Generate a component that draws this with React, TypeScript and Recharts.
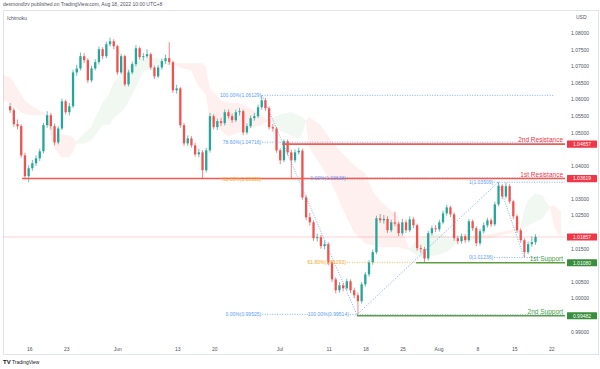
import React from 'react';
import { ComposedChart, Bar, Area, XAxis, YAxis, ReferenceLine, ReferenceDot } from 'recharts';

// ---------- candles (EURUSD, 12h-ish bars) ----------
const opens = [1.0580,1.0568,1.0526,1.0520,1.0432,1.0369,1.0393,1.0408,1.0423,1.0444,
1.0523,1.0553,1.0520,1.0471,1.0513,1.0595,1.0562,1.0580,1.0682,1.0694,
1.0731,1.0719,1.0658,1.0694,1.0713,1.0752,1.0731,1.0767,1.0776,1.0761,
1.0682,1.0731,1.0646,1.0682,1.0707,1.0755,1.0728,1.0731,1.0737,1.0697,
1.0670,1.0697,1.0716,1.0725,1.0713,1.0628,1.0634,1.0523,1.0468,1.0483,
1.0462,1.0435,1.0441,1.0387,1.0447,1.0550,1.0517,1.0535,1.0529,1.0562,
1.0550,1.0538,1.0562,1.0565,1.0501,1.0520,1.0544,1.0550,1.0577,1.0598,
1.0574,1.0517,1.0513,1.0447,1.0417,1.0474,1.0441,1.0417,1.0441,1.0446,
1.0305,1.0245,1.0230,1.0182,1.0185,1.0158,1.0164,1.0109,1.0058,1.0025,
1.0040,1.0031,1.0052,1.0025,1.0010,0.9992,1.0043,1.0073,1.0109,1.0140,
1.0242,1.0236,1.0240,1.0206,1.0230,1.0226,1.0197,1.0230,1.0206,1.0239,
1.0221,1.0152,1.0149,1.0121,1.0197,1.0212,1.0209,1.0230,1.0257,1.0275,
1.0254,1.0182,1.0173,1.0188,1.0176,1.0233,1.0212,1.0167,1.0203,1.0221,
1.0236,1.0224,1.0284,1.0340,1.0308,1.0339,1.0293,1.0248,1.0206,1.0176,
1.0140,1.0164,1.0170];
const closes = [1.0568,1.0526,1.0520,1.0432,1.0369,1.0393,1.0408,1.0423,1.0444,1.0523,
1.0553,1.0520,1.0471,1.0513,1.0595,1.0562,1.0580,1.0682,1.0694,1.0731,
1.0719,1.0658,1.0694,1.0713,1.0752,1.0731,1.0767,1.0776,1.0761,1.0682,
1.0731,1.0646,1.0682,1.0707,1.0755,1.0728,1.0731,1.0737,1.0697,1.0670,
1.0697,1.0716,1.0725,1.0713,1.0628,1.0634,1.0523,1.0468,1.0483,1.0462,
1.0435,1.0441,1.0387,1.0447,1.0550,1.0517,1.0535,1.0529,1.0562,1.0550,
1.0538,1.0562,1.0565,1.0501,1.0520,1.0544,1.0550,1.0577,1.0598,1.0574,
1.0517,1.0513,1.0447,1.0417,1.0474,1.0441,1.0417,1.0441,1.0446,1.0305,
1.0245,1.0230,1.0182,1.0185,1.0158,1.0164,1.0109,1.0058,1.0025,1.0040,
1.0031,1.0052,1.0025,1.0010,0.9992,1.0043,1.0073,1.0109,1.0140,1.0242,
1.0236,1.0240,1.0206,1.0230,1.0226,1.0197,1.0230,1.0206,1.0239,1.0221,
1.0152,1.0149,1.0121,1.0197,1.0212,1.0209,1.0230,1.0257,1.0275,1.0254,
1.0182,1.0173,1.0188,1.0176,1.0233,1.0212,1.0167,1.0203,1.0221,1.0236,
1.0224,1.0284,1.0340,1.0308,1.0339,1.0293,1.0248,1.0206,1.0176,1.0140,
1.0164,1.0170,1.0186];
const highs = [1.0590,1.0575,1.0540,1.0526,1.0440,1.0402,1.0418,1.0432,1.0452,1.0530,
1.0565,1.0560,1.0528,1.0520,1.0603,1.0600,1.0590,1.0690,1.0705,1.0742,
1.0740,1.0725,1.0702,1.0722,1.0760,1.0758,1.0775,1.0787,1.0782,1.0766,
1.0738,1.0736,1.0690,1.0715,1.0764,1.0760,1.0740,1.0752,1.0742,1.0703,
1.0705,1.0724,1.0735,1.0773,1.0718,1.0645,1.0638,1.0530,1.0492,1.0490,
1.0470,1.0452,1.0448,1.0455,1.0560,1.0556,1.0543,1.0545,1.0570,1.0570,
1.0558,1.0570,1.0575,1.0570,1.0528,1.0552,1.0560,1.0585,1.0613,1.0605,
1.0580,1.0526,1.0518,1.0453,1.0480,1.0480,1.0448,1.0450,1.0455,1.0452,
1.0312,1.0258,1.0236,1.0196,1.0192,1.0175,1.0170,1.0115,1.0064,1.0050,
1.0048,1.0060,1.0058,1.0033,1.0018,1.0050,1.0080,1.0116,1.0148,1.0250,
1.0255,1.0252,1.0248,1.0238,1.0262,1.0232,1.0240,1.0238,1.0248,1.0246,
1.0226,1.0162,1.0156,1.0204,1.0220,1.0222,1.0238,1.0265,1.0283,1.0280,
1.0260,1.0190,1.0196,1.0195,1.0240,1.0238,1.0218,1.0210,1.0230,1.0244,
1.0242,1.0292,1.0351,1.0345,1.0349,1.0345,1.0298,1.0254,1.0212,1.0182,
1.0172,1.0188,1.0194];
const lows = [1.0560,1.0518,1.0510,1.0425,1.0359,1.0351,1.0385,1.0400,1.0415,1.0438,
1.0515,1.0510,1.0462,1.0465,1.0508,1.0555,1.0552,1.0575,1.0672,1.0688,
1.0710,1.0650,1.0652,1.0688,1.0706,1.0722,1.0725,1.0760,1.0752,1.0675,
1.0676,1.0640,1.0640,1.0676,1.0700,1.0720,1.0718,1.0725,1.0690,1.0662,
1.0665,1.0690,1.0708,1.0705,1.0620,1.0618,1.0515,1.0460,1.0460,1.0455,
1.0428,1.0426,1.0360,1.0380,1.0440,1.0510,1.0508,1.0520,1.0522,1.0542,
1.0530,1.0532,1.0552,1.0493,1.0495,1.0514,1.0536,1.0544,1.0570,1.0566,
1.0510,1.0503,1.0440,1.0405,1.0412,1.0433,1.0363,1.0410,1.0434,1.0298,
1.0236,1.0220,1.0174,1.0172,1.0150,1.0148,1.0100,1.0050,1.0016,1.0018,
1.0022,1.0025,1.0016,1.0001,0.9951,0.9985,1.0036,1.0066,1.0102,1.0134,
1.0228,1.0226,1.0198,1.0200,1.0218,1.0188,1.0190,1.0198,1.0200,1.0212,
1.0144,1.0138,1.0108,1.0115,1.0190,1.0200,1.0202,1.0224,1.0250,1.0246,
1.0174,1.0164,1.0166,1.0168,1.0170,1.0204,1.0158,1.0160,1.0196,1.0214,
1.0216,1.0218,1.0278,1.0300,1.0302,1.0286,1.0240,1.0198,1.0168,1.0124,
1.0134,1.0156,1.0162];

// ---------- Ichimoku cloud segments: [barIndex, upper, lower] ----------
const cloudR1 = [[-2,1.0673,1.0598],[0,1.0667,1.0589],[1,1.0655,1.0580],[3,1.0616,1.0562],[4,1.0598,1.0556],[6,1.0580,1.0553],[8,1.0568,1.0553],[9,1.0562,1.0556],[10,1.0550,1.0544],[11,1.0523,1.0492],[12,1.0498,1.0453],[14,1.0495,1.0426],[16,1.0492,1.0426],[17,1.0486,1.0441],[18,1.0474,1.0468]];
const cloudG1 = [[18,1.0474,1.0468],[20,1.0498,1.0468],[22,1.0517,1.0477],[23,1.0544,1.0492],[25,1.0589,1.0523],[27,1.0619,1.0526],[28,1.0652,1.0544],[30,1.0673,1.0562],[31,1.0694,1.0574],[32,1.0700,1.0592],[33,1.0710,1.0613],[35,1.0719,1.0658],[36,1.0725,1.0682],[38,1.0728,1.0694],[40,1.0725,1.0710],[42,1.0716,1.0703],[44,1.0710,1.0707]];
const cloudR2 = [[44,1.0710,1.0707],[46,1.0710,1.0697],[49,1.0710,1.0688],[51,1.0710,1.0640],[52,1.0710,1.0628],[53,1.0700,1.0613],[54,1.0634,1.0544],[57,1.0598,1.0507],[59,1.0592,1.0489],[62,1.0589,1.0501],[65,1.0574,1.0513],[68,1.0553,1.0523],[69,1.0544,1.0532],[70,1.0538,1.0535]];
const cloudG2 = [[70,1.0538,1.0535],[73,1.0556,1.0507],[76,1.0562,1.0492],[78,1.0553,1.0483],[79,1.0547,1.0495],[80,1.0538,1.0532]];
const cloudR3 = [[80,1.0538,1.0532],[81,1.0547,1.0453],[84,1.0523,1.0402],[87,1.0477,1.0348],[89,1.0447,1.0296],[91,1.0426,1.0245],[93,1.0402,1.0200],[96,1.0378,1.0167],[98,1.0326,1.0161],[100,1.0296,1.0155],[103,1.0266,1.0155],[105,1.0245,1.0155],[106,1.0206,1.0152],[108,1.0152,1.0146]];
const cloudG3 = [[108,1.0152,1.0146],[110,1.0176,1.0130],[112,1.0188,1.0124],[115,1.0197,1.0130],[118,1.0191,1.0140],[120,1.0176,1.0158],[121,1.0176,1.0173]];
const cloudR4 = [[121,1.0176,1.0173],[124,1.0188,1.0176],[130,1.0194,1.0182],[135,1.0206,1.0197],[138,1.0212,1.0209]];
const cloudG4 = [[138,1.0212,1.0209],[139,1.0266,1.0215],[140,1.0296,1.0221],[142,1.0317,1.0230],[144,1.0311,1.0242],[145,1.0290,1.0260],[146,1.0278,1.0272]];
const cloudR5 = [[146,1.0278,1.0272],[147,1.0281,1.0221],[148,1.0272,1.0197],[149,1.0260,1.0185]];

// ---------- axes ----------
const yTicks = [0.99,0.995,1.0,1.005,1.01,1.015,1.02,1.025,1.03,1.035,1.04,1.045,1.05,1.055,1.06,1.065,1.07,1.075,1.08];
const xTickIdx = [5.4,15.4,29.2,45.4,55.4,73,86.3,96.3,106.3,116,126.5,136.5,146.5];
const xTickLabels = ['16','23','Jun','13','20','Jul','11','18','25','Aug','8','15','22'];

// ---------- support / resistance levels ----------
const levelNames = ['2nd Resistance','1st Resistance','1st Support','2nd Support'];
const levelPrices = [1.04657,1.03619,1.01080,0.99482];
const levelStart = [73.6,3.3,109.8,93.8];
const levelKind = ['r','r','s','s'];

// ---------- fibonacci annotations ----------
const fibTexts = ['100.00%(1.06129)','78.60%(1.04716)','61.80%(1.03608)','0.00%(0.99525)','0.00%(1.03638)','61.80%(1.01093)','100.00%(0.99514)','1(1.03509)','0(1.01236)'];
const fibPrices = [1.06129,1.04716,1.03608,0.99525,1.03638,1.01093,0.99514,1.03509,1.01236];
const fibStart = [68.2,68.2,68.2,68.2,91.1,91.1,91.9,130.9,130.9];
const fibEnd = [147.3,147.3,79,80.6,150,109.8,150,150,143.3];
const fibKind = ['b','b','o','b','b','o','b','b','b'];
const diagFrom = [[68.2,1.06129],[93.8,0.99514],[132,1.03509]];
const diagTo = [[93.8,0.99514],[132,1.03509],[139,1.01236]];

// ---------- price boxes on axis ----------
const boxPrices = [1.04657,1.03619,1.01857,1.01080,0.99482];
const boxKind = ['r','r','r','s','s'];
const lastPrice = 1.01857;

const K_MIN = -1.85;
const K_MAX = 150.05;
const UP = '#26a69a';
const DOWN = '#ef5350';
const RED = '#f23645';
const GREEN = '#388e3c';
const BLUE = '#5b9cf6';
const ORANGE = '#f5a623';
const FONT = "'Liberation Sans', Arial, sans-serif";
const TXT = '#50535e';

const segs: [string, number[][], string][] = [
  ['cR1', cloudR1, 'r'], ['cG1', cloudG1, 'g'], ['cR2', cloudR2, 'r'], ['cG2', cloudG2, 'g'],
  ['cR3', cloudR3, 'r'], ['cG3', cloudG3, 'g'], ['cR4', cloudR4, 'r'], ['cG4', cloudG4, 'g'], ['cR5', cloudR5, 'r'],
];

const rows: any[] = [];
for (let k = -2; k <= 150; k++) {
  const row: any = { k };
  if (k >= 0 && k < closes.length) {
    row.o = opens[k]; row.h = highs[k]; row.l = lows[k]; row.c = closes[k];
    row.range = [lows[k], highs[k]];
  }
  rows.push(row);
}
segs.forEach(([name, pts]) => {
  pts.forEach(([k, hi, lo]) => { rows[k + 2][name] = [lo, hi]; });
});

function Candle(props: any) {
  const { x, y, width, height } = props;
  const d = props.payload || props;
  if (d == null || d.o == null || !isFinite(y)) return null;
  const top = Math.min(y, y + height);
  const bot = Math.max(y, y + height);
  const span = d.h - d.l;
  const per = span > 0 ? (bot - top) / span : 0;
  const yo = top + (d.h - d.o) * per;
  const yc = top + (d.h - d.c) * per;
  const color = d.c >= d.o ? UP : DOWN;
  const cx = x + width / 2;
  const bTop = Math.min(yo, yc);
  const bH = Math.max(Math.abs(yc - yo), 0.8);
  return (
    <g>
      <line x1={cx} x2={cx} y1={top} y2={bot} stroke={color} strokeWidth={0.7} />
      <rect x={x} y={bTop} width={width} height={bH} fill={color} />
    </g>
  );
}

const YTick = (props: any) => {
  const v = Number(props.payload.value);
  // ticks hidden under the coloured price boxes
  if (boxPrices.some((b) => Math.abs(b - v) < 0.0021)) return <g />;
  return (
    <text x={props.x} y={props.y} dy={1.8} fontSize={5} fill={TXT} fontFamily={FONT} textAnchor="start">
      {v.toFixed(5)}
    </text>
  );
};

const XTick = (props: any) => {
  const i = xTickIdx.indexOf(props.payload.value);
  return (
    <text x={props.x} y={351} fontSize={5} fill={TXT} fontFamily={FONT} textAnchor="middle">
      {i >= 0 ? xTickLabels[i] : ''}
    </text>
  );
};

const PriceBox = (props: any) => {
  const { cx, cy, color, value } = props;
  return (
    <g>
      <rect x={cx + 2} y={cy - 3.6} width={30} height={7.2} fill={color} rx={0.5} />
      <text x={cx + 17} y={cy + 1.8} fontSize={5} fill="#fff" fontFamily={FONT} textAnchor="middle">
        {value.toFixed(5)}
      </text>
    </g>
  );
};

export default function App() {
  return (
    <div style={{ position: 'absolute', left: 0, top: 0, width: 600, height: 369, background: '#fff', fontFamily: FONT, overflow: 'hidden' }}>
      <div style={{ position: 'absolute', left: 3, top: 1, fontSize: 5, color: TXT, whiteSpace: 'nowrap' }}>
        desmondlzv published on TradingView.com, Aug 18, 2022 10:00 UTC+8
      </div>
      <div style={{ position: 'absolute', left: 3, top: 10, width: 594, height: 343, border: '1px solid #e0e3eb' }} />
      <div style={{ position: 'absolute', left: 7, top: 15, fontSize: 5, color: TXT }}>Ichimoku</div>
      <div style={{ position: 'absolute', left: 576, top: 14, fontSize: 5, color: TXT }}>USD</div>
      <div style={{ position: 'absolute', left: 3, top: 359, fontSize: 5, color: '#131722', whiteSpace: 'nowrap' }}>
        <span style={{ fontWeight: 900, fontSize: 6 }}>TV</span> TradingView
      </div>
      <div style={{ position: 'absolute', left: 0, top: 0 }}>
        <ComposedChart width={600} height={369} data={rows} margin={{ top: 10, right: 0, bottom: 15, left: 3 }}>
          <XAxis
            type="number"
            dataKey="k"
            domain={[K_MIN, K_MAX]}
            allowDataOverflow
            ticks={xTickIdx}
            interval={0}
            axisLine={false}
            tickLine={false}
            height={14}
            tick={<XTick />}
          />
          <YAxis
            orientation="right"
            type="number"
            domain={[0.9875, 1.08703]}
            allowDataOverflow
            ticks={yTicks}
            interval={0}
            axisLine={false}
            tickLine={false}
            tickSize={6}
            tickMargin={0}
            width={35}
            tick={<YTick />}
          />
          {segs.map(([name, , col]) => (
            <Area
              key={name}
              dataKey={name}
              type="linear"
              stroke="none"
              fill={col === 'g' ? '#43a047' : '#f44336'}
              fillOpacity={col === 'g' ? 0.08 : 0.08}
              connectNulls
              dot={false}
              activeDot={false}
              isAnimationActive={false}
            />
          ))}
          <ReferenceLine y={lastPrice} stroke={DOWN} strokeOpacity={0.25} strokeWidth={1} />
          {fibTexts.map((t, i) => (
            <ReferenceLine
              key={'f' + i}
              segment={[{ x: fibStart[i], y: fibPrices[i] }, { x: fibEnd[i], y: fibPrices[i] }]}
              stroke={fibKind[i] === 'o' ? ORANGE : BLUE}
              strokeWidth={0.8}
              strokeDasharray="1 1.5"
              label={{ value: t, position: 'left', offset: 1, fontSize: 5, fill: fibKind[i] === 'o' ? ORANGE : BLUE, fontFamily: FONT }}
            />
          ))}
          {diagFrom.map((p, i) => (
            <ReferenceLine
              key={'d' + i}
              segment={[{ x: p[0], y: p[1] }, { x: diagTo[i][0], y: diagTo[i][1] }]}
              stroke={BLUE}
              strokeWidth={0.8}
              strokeDasharray="1 1.5"
            />
          ))}
          <Bar dataKey="range" barSize={2.3} shape={(p: any) => <Candle {...p} />} isAnimationActive={false} />
          {levelNames.map((n, i) => (
            <ReferenceLine
              key={'l' + i}
              segment={[{ x: levelStart[i], y: levelPrices[i] }, { x: K_MAX, y: levelPrices[i] }]}
              stroke={levelKind[i] === 'r' ? '#f25a52' : '#5f9e3c'}
              strokeWidth={1.6}
              label={{ value: n, position: 'insideBottomRight', offset: 2, fontSize: 6.5, fill: levelKind[i] === 'r' ? RED : '#43a047', fontFamily: FONT }}
            />
          ))}
          {boxPrices.map((p, i) => (
            <ReferenceDot
              key={'b' + i}
              x={K_MAX}
              y={p}
              r={0}
              ifOverflow="visible"
              shape={(props: any) => <PriceBox cx={props.cx} cy={props.cy} color={boxKind[i] === 'r' ? RED : GREEN} value={p} />}
            />
          ))}
        </ComposedChart>
      </div>
    </div>
  );
}
